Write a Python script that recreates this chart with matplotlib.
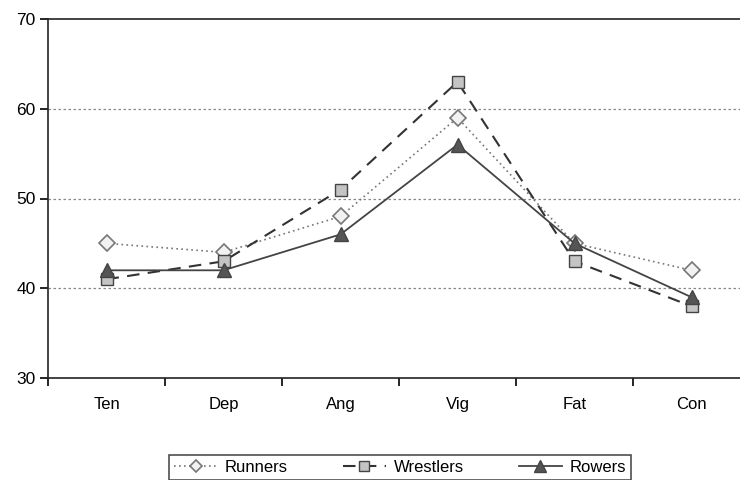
import matplotlib
matplotlib.use("Agg")
import matplotlib.pyplot as plt

categories = ["Ten", "Dep", "Ang", "Vig", "Fat", "Con"]
runners = [45, 44, 48, 59, 45, 42]
wrestlers = [41, 43, 51, 63, 43, 38]
rowers = [42, 42, 46, 56, 45, 39]
yticks = [30, 40, 50, 60, 70]

plt.rcParams['font.family'] = ['Liberation Sans', 'DejaVu Sans']

fig = plt.figure(figsize=(7.4, 4.8), dpi=100)
ax = fig.add_axes([48/740, 1-378/480, 702/740, (378-19)/480])

x = list(range(len(categories)))
l1, = ax.plot(x, runners, linestyle=(0, (1, 2)), color='#777777', lw=1.2,
              marker='D', markersize=8, markerfacecolor='#f2f2f2',
              markeredgecolor='#777777', markeredgewidth=1.2, label='Runners', zorder=3)
l2, = ax.plot(x, wrestlers, linestyle=(0, (6, 4)), color='#333333', lw=1.5,
              marker='s', markersize=9, markerfacecolor='#c4c4c4',
              markeredgecolor='#444444', markeredgewidth=1.0, label='Wrestlers', zorder=4)
l3, = ax.plot(x, rowers, linestyle='-', color='#444444', lw=1.3,
              marker='^', markersize=10, markerfacecolor='#555555',
              markeredgecolor='#444444', markeredgewidth=1.0, label='Rowers', zorder=5)

ax.set_xlim(-0.5, 5.5)
ax.set_ylim(30, 70)
ax.set_yticks(yticks)
ax.set_xticks([i + 0.5 for i in range(-1, 6)], minor=False)
ax.set_xticklabels([])
ax.set_xticks(x, minor=True)
ax.set_xticklabels(categories, minor=True)
ax.tick_params(axis='x', which='minor', length=0, pad=14, labelsize=12)
ax.tick_params(axis='x', which='major', length=6, direction='out', width=1.2)
ax.tick_params(axis='y', length=6, direction='out', width=1.2, labelsize=12.5, pad=3)

for gy in [40, 50, 60]:
    ax.axhline(gy, color='#888888', lw=0.9, linestyle=(0, (2, 2)), zorder=1)

for s in ['left', 'bottom', 'top']:
    ax.spines[s].set_linewidth(1.2)
    ax.spines[s].set_color('#222222')
ax.spines['right'].set_visible(False)

leg = fig.legend(handles=[l1, l2, l3], loc='upper center', bbox_to_anchor=(400/740, 1-455/480),
                 ncol=3, frameon=True, fancybox=False, edgecolor='#222222', borderaxespad=0,
                 fontsize=12, handlelength=2.6, columnspacing=3.3, borderpad=0.3,
                 handletextpad=0.45, markerscale=0.8)
leg.get_frame().set_linewidth(1.2)

fig.savefig("out.png", dpi=100)
